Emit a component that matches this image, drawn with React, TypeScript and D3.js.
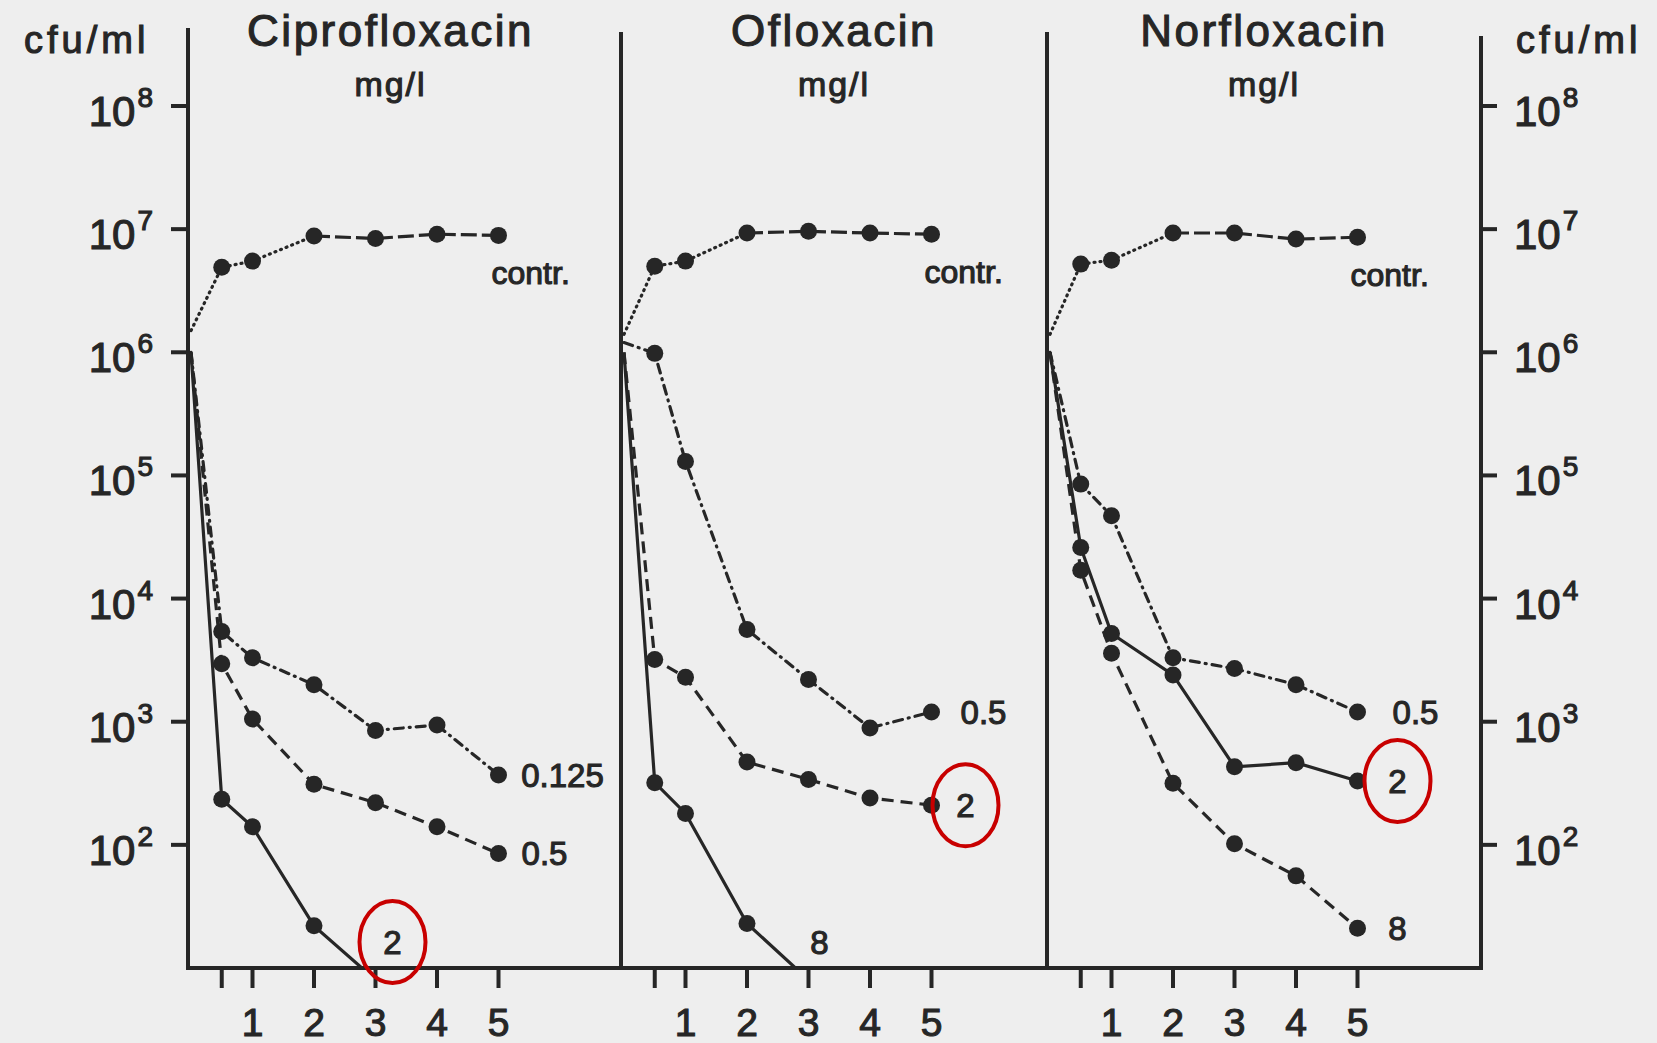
import * as d3 from 'd3';

// sampling times (h) and axis ticks
const hours = [0, 0.5, 1, 2, 3, 4, 5];
const hourTicks = [0.5, 1, 2, 3, 4, 5];
const hourTickLabels = ['', '1', '2', '3', '4', '5'];
const decades = [2, 3, 4, 5, 6, 7, 8];

// cfu/ml; null = below detection
const cipControl = [1.5e6, 4.9e6, 5.5e6, 8.8e6, 8.4e6, 9.1e6, 8.9e6];
const cip0125 = [1.0e6, 5.4e3, 3.3e3, 2.0e3, 850, 940, 370];
const cip05 = [1.0e6, 2.95e3, 1.05e3, 310, 220, 140, 85];
const cip2 = [1.0e6, 235, 140, 22, 8, null, null];

const oflControl = [1.4e6, 5.0e6, 5.5e6, 9.3e6, 9.6e6, 9.3e6, 9.1e6];
const ofl05 = [1.2e6, 9.8e5, 1.3e5, 5.6e3, 2.2e3, 890, 1.2e3];
const ofl2 = [1.0e6, 3.2e3, 2.3e3, 470, 340, 240, 210];
const ofl8 = [1.0e6, 320, 180, 23, 8, null, null];

const norControl = [1.4e6, 5.2e6, 5.6e6, 9.3e6, 9.3e6, 8.3e6, 8.6e6];
const nor05 = [1.0e6, 8.5e4, 4.7e4, 3.3e3, 2.7e3, 2.0e3, 1.2e3];
const nor2 = [1.0e6, 2.6e4, 5.2e3, 2.4e3, 430, 465, 330];
const nor8 = [1.0e6, 1.7e4, 3.6e3, 316, 102, 56, 21];

type Dash = 'dashdot' | 'dash' | 'solid';

interface Series {
  label: string;
  values: (number | null)[];
  dash: Dash;
  circled?: boolean;
}

interface Panel {
  name: string;
  control: number[];
  series: Series[];
}

const panels: Panel[] = [
  {
    name: 'Ciprofloxacin',
    control: cipControl,
    series: [
      { label: '0.125', values: cip0125, dash: 'dashdot' },
      { label: '0.5', values: cip05, dash: 'dash' },
      { label: '2', values: cip2, dash: 'solid', circled: true },
    ],
  },
  {
    name: 'Ofloxacin',
    control: oflControl,
    series: [
      { label: '0.5', values: ofl05, dash: 'dashdot' },
      { label: '2', values: ofl2, dash: 'dash', circled: true },
      { label: '8', values: ofl8, dash: 'solid' },
    ],
  },
  {
    name: 'Norfloxacin',
    control: norControl,
    series: [
      { label: '0.5', values: nor05, dash: 'dashdot' },
      { label: '2', values: nor2, dash: 'solid', circled: true },
      { label: '8', values: nor8, dash: 'dash' },
    ],
  },
];

const width = 1657;
const height = 1043;
const edges = [188, 621, 1047, 1481];
const plotTop = 28;
const plotBottom = 968;
const ink = '#262626';
const font = "'Liberation Sans', Arial, Helvetica, sans-serif";

const dashes: Record<Dash, string | undefined> = {
  dashdot: '9,6,1,6',
  dash: '12,7',
  solid: undefined,
};

const y = d3.scaleLog().domain([10, 1e8]).range([plotBottom, 106]);

const App = () => {
  const line = (x: d3.ScaleLinear<number, number>) =>
    d3
      .line<[number, number | null]>()
      .defined((d) => d[1] !== null)
      .x((d) => x(d[0]))
      .y((d) => y(d[1] as number));

  const textStyle = { fontFamily: font, fill: ink, stroke: ink, strokeWidth: 1.1 };

  return (
    <svg
      width={width}
      height={height}
      style={{ position: 'absolute', left: 0, top: 0, background: '#eeeeee' }}
    >
      <defs>
        <clipPath id="plot-clip">
          <rect x={edges[0]} y={0} width={edges[3] - edges[0]} height={plotBottom} />
        </clipPath>
      </defs>

      {/* axes frame */}
      <g stroke={ink} strokeWidth={4} fill="none">
        <line x1={edges[0]} x2={edges[0]} y1={plotTop} y2={plotBottom} />
        <line x1={edges[1]} x2={edges[1]} y1={32} y2={plotBottom} />
        <line x1={edges[2]} x2={edges[2]} y1={32} y2={plotBottom} />
        <line x1={edges[3]} x2={edges[3]} y1={36} y2={plotBottom + 2} />
        <line x1={edges[0] - 2} x2={edges[3] + 2} y1={plotBottom} y2={plotBottom} />
      </g>

      {/* y ticks, both sides */}
      {decades.map((d) => (
        <g key={d}>
          <line x1={edges[0] - 17} x2={edges[0]} y1={y(10 ** d)} y2={y(10 ** d)} stroke={ink} strokeWidth={4} />
          <line x1={edges[3]} x2={edges[3] + 16} y1={y(10 ** d)} y2={y(10 ** d)} stroke={ink} strokeWidth={4} />
          <text x={153} y={y(10 ** d) + 20} textAnchor="end" fontSize={42} {...textStyle}>
            10
            <tspan dx={2} dy={-19} fontSize={28}>
              {d}
            </tspan>
          </text>
          <text x={1514} y={y(10 ** d) + 20} textAnchor="start" fontSize={42} {...textStyle}>
            10
            <tspan dx={2} dy={-19} fontSize={28}>
              {d}
            </tspan>
          </text>
        </g>
      ))}

      <text x={24} y={53} fontSize={38} letterSpacing={4} {...textStyle}>
        cfu/ml
      </text>
      <text x={1516} y={53} fontSize={38} letterSpacing={4} {...textStyle}>
        cfu/ml
      </text>

      {panels.map((p, i) => {
        const left = edges[i];
        const right = edges[i + 1];
        const x = d3.scaleLinear().domain([0, 5]).range([left + 3, left + 3 + 5 * 61.5]);
        const path = line(x);
        const mid = (left + right) / 2 - (i === 0 ? 14 : 0);
        const ctrl = hours.map((h, k) => [h, p.control[k]] as [number, number]);
        const lastCtrl = p.control[p.control.length - 1];

        return (
          <g key={p.name}>
            <text x={mid} y={46} textAnchor="middle" fontSize={44} letterSpacing={2.5} {...textStyle}>
              {p.name}
            </text>
            <text x={mid} y={96} textAnchor="middle" fontSize={34} letterSpacing={2} {...textStyle}>
              mg/l
            </text>

            {hourTicks.map((h, k) => (
              <g key={h}>
                <line x1={x(h)} x2={x(h)} y1={plotBottom} y2={plotBottom + 20} stroke={ink} strokeWidth={4} />
                <text x={x(h)} y={1036} textAnchor="middle" fontSize={39} {...textStyle}>
                  {hourTickLabels[k]}
                </text>
              </g>
            ))}

            {/* growth control: dotted early, dashed later */}
            <g fill="none" stroke={ink} strokeWidth={3.2}>
              <path d={path(ctrl.slice(0, 4)) ?? ''} strokeDasharray="1,5" strokeLinecap="round" />
              <path d={path(ctrl.slice(3)) ?? ''} strokeDasharray="16,5" />
            </g>
            {ctrl.slice(1).map((d) => (
              <circle key={d[0]} cx={x(d[0])} cy={y(d[1])} r={8.5} fill={ink} />
            ))}
            <text x={x(5) - 7} y={y(lastCtrl) + 49} fontSize={32} {...textStyle}>
              contr.
            </text>

            {p.series.map((s) => {
              const pts = hours.map((h, k) => [h, s.values[k]] as [number, number | null]);
              const shown = pts.filter((d) => d[0] > 0 && d[1] !== null && (d[1] as number) >= 10);
              const last = pts.filter((d) => d[1] !== null).slice(-1)[0];
              const below = (last[1] as number) < 10;
              // label centre
              const lx = below
                ? x(last[0]) + (i === 0 ? 17 : 11)
                : x(last[0]) + 19 + 6 * i + s.label.length * 9;
              const ly = below ? plotBottom - 26 : y(last[1] as number);
              return (
                <g key={s.label}>
                  <path
                    d={path(pts) ?? ''}
                    fill="none"
                    stroke={ink}
                    strokeWidth={3.2}
                    strokeDasharray={dashes[s.dash]}
                    strokeLinecap={s.dash === 'dashdot' ? 'round' : 'butt'}
                    clipPath="url(#plot-clip)"
                  />
                  {shown.map((d) => (
                    <circle key={d[0]} cx={x(d[0])} cy={y(d[1] as number)} r={8.5} fill={ink} />
                  ))}
                  <text x={lx} y={ly} dy="0.36em" textAnchor="middle" fontSize={33} {...textStyle}>
                    {s.label}
                  </text>
                  {s.circled && (
                    <ellipse
                      cx={lx}
                      cy={ly}
                      rx={33}
                      ry={41}
                      fill="none"
                      stroke="#c80000"
                      strokeWidth={4}
                    />
                  )}
                </g>
              );
            })}
          </g>
        );
      })}
    </svg>
  );
};

export default App;
